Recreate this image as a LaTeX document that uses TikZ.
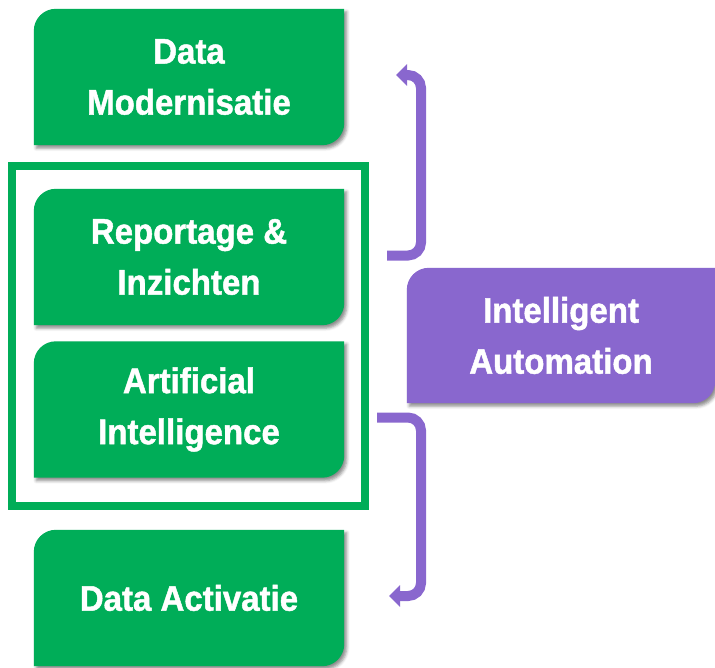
\documentclass[tikz,border=0pt]{standalone}
\usepackage{fontspec}
\setmainfont{Liberation Sans}[FakeStretch=0.93, BoldFeatures={FakeBold=1.3}]
\usetikzlibrary{arrows.meta,backgrounds,shadows.blur}
\definecolor{grn}{RGB}{0,173,88}
\definecolor{prp}{RGB}{137,103,206}
\tikzset{
  boxtext/.style={minimum width=310pt, minimum height=136pt, inner sep=0pt, align=center,
    text=white, font=\fontsize{35.5}{51}\selectfont\bfseries},
  bracket/.style={draw=prp, line width=10pt, rounded corners=13pt,
    -{Triangle[width=21pt,length=11pt]}},
  frame/.style={draw=grn, line width=8pt, inner sep=0pt},
  boxshade/.style={blur shadow={shadow xshift=2.5pt, shadow yshift=-3pt,
    shadow blur radius=3pt, shadow opacity=45}}
}
\newcommand\tabbox[3][22pt]{%
  \fill[#3, boxshade] (#2.south west) -- ([yshift=-#1]#2.north west)
    arc[start angle=180, end angle=90, radius=#1] -- (#2.north east)
    -- ([yshift=#1]#2.south east) arc[start angle=0, end angle=-90, radius=#1] -- cycle;}
\begin{document}
\begin{tikzpicture}[x=1pt,y=-1pt]
\useasboundingbox (0,0) rectangle (715,667);
\node[boxtext] (dm) at (189,77) {Data\\Modernisatie};
\node[boxtext] (ri) at (189,257) {Reportage \&\\Inzichten};
\node[boxtext] (ai) at (189,409.5) {Artificial\\Intelligence};
\node[boxtext] (da) at (189,598) {Data Activatie};
\node[boxtext, minimum width=308pt, minimum height=135pt] (ia) at (561,335.5) {Intelligent\\Automation};
\node[frame, minimum width=353pt, minimum height=340pt] (fr) at (188.5,336) {};
\begin{scope}[on background layer]
  \tabbox{dm}{grn}
  \tabbox{ri}{grn}
  \tabbox{ai}{grn}
  \tabbox{da}{grn}
  \tabbox{ia}{prp}
\end{scope}
\coordinate (u1) at (387,255.5);
\coordinate (u2) at (421,75);
\coordinate (u3) at (396,75);
\coordinate (l1) at (377,417.5);
\coordinate (l2) at (421,596);
\coordinate (l3) at (389,596);
\draw[bracket] (u1) -| (u2) -- (u3);
\draw[bracket] (l1) -| (l2) -- (l3);
\end{tikzpicture}
\end{document}
